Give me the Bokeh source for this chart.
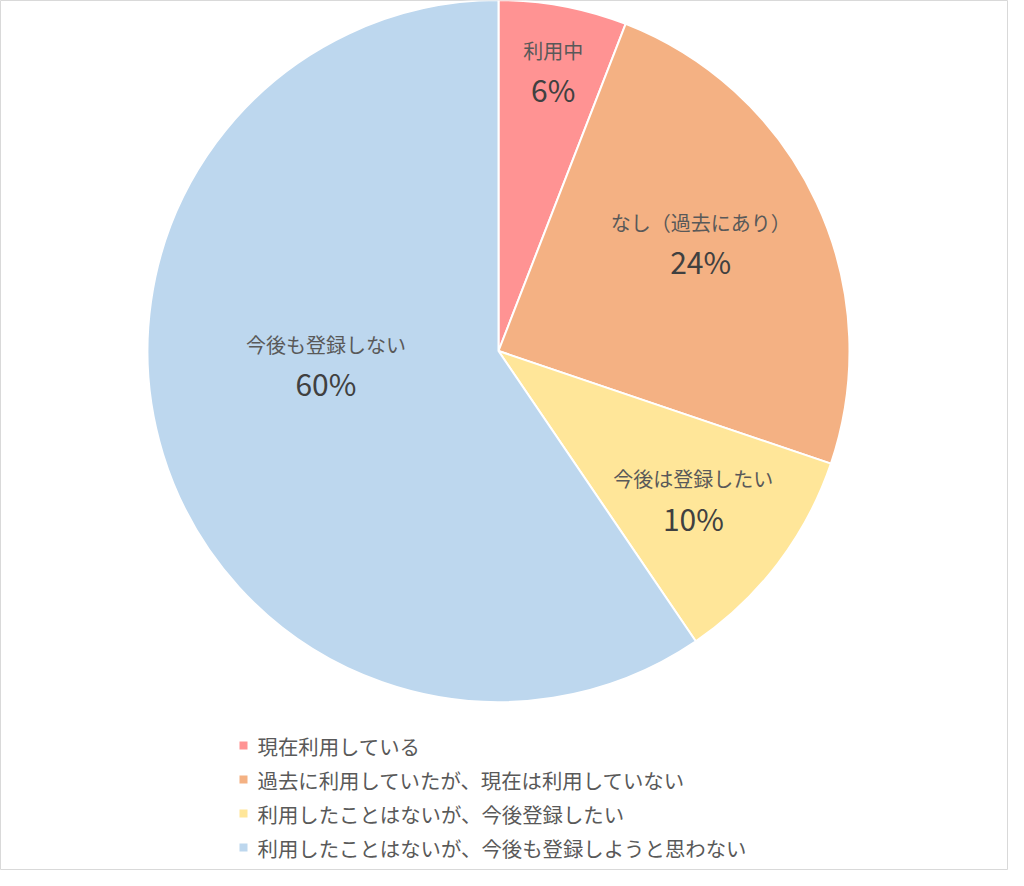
import math
from bokeh.plotting import figure
from bokeh.models import Range1d, ColumnDataSource
from bokeh.core.properties import value
from bokeh.embed import file_html
from bokeh.resources import INLINE

# ---- data ----
short_labels = ["利用中", "なし（過去にあり）", "今後は登録したい", "今後も登録しない"]
legend_labels = ["現在利用している",
                 "過去に利用していたが、現在は利用していない",
                 "利用したことはないが、今後登録したい",
                 "利用したことはないが、今後も登録しようと思わない"]
shares = [5.9, 24.3, 10.3, 59.5]
colors = ["#FF9393", "#F4B183", "#FFE699", "#BDD7EE"]

# ---- layout ----
W, H = 1008, 870
cx, cy, R = 498, H - 350.5, 351
# label placement (polar: degrees clockwise from top, distance from centre)
label_polar = [(11, 287), (61.5, 230), (127, 244), (266, 173)]
FONT = value("Noto Sans CJK JP")

p = figure(width=W, height=H, output_backend="svg", toolbar_location=None,
           x_range=Range1d(0, W), y_range=Range1d(0, H), min_border=0,
           outline_line_color="#D9D9D9", outline_line_width=1)
p.axis.visible = False
p.grid.visible = False
p.background_fill_color = "white"

total = sum(shares)
starts, ends = [], []
acc = 0.0
for s in shares:
    starts.append(math.pi / 2 - 2 * math.pi * acc / total)
    acc += s
    ends.append(math.pi / 2 - 2 * math.pi * acc / total)

src = ColumnDataSource(dict(start=starts, end=ends, color=colors))
p.wedge(x=cx, y=cy, radius=R, start_angle="start", end_angle="end",
        direction="clock", fill_color="color", line_color="white",
        line_width=2, source=src)

pct = [f"{round(s / total * 100)}%" for s in shares]
lx = [cx + d * math.sin(math.radians(a)) for a, d in label_polar]
ly = [cy + d * math.cos(math.radians(a)) for a, d in label_polar]
p.text(x=lx, y=[v + 19 for v in ly], text=short_labels, text_font=FONT,
       text_font_size="20px", text_color="#595959", text_align="center",
       text_baseline="middle")
p.text(x=lx, y=[v - 20 for v in ly], text=pct, text_font=FONT,
       text_font_size="30px", text_color="#404040", text_align="center",
       text_baseline="middle")

# legend
leg_y = [H - (753 - 8) - 34 * i for i in range(len(legend_labels))]
p.scatter(x=[243] * 4, y=leg_y, marker="square", size=8, fill_color=colors,
          line_color=None)
p.text(x=[257] * 4, y=leg_y, text=legend_labels, text_font=FONT,
       text_font_size="20.4px", text_color="#595959", text_align="left",
       text_baseline="middle")

open("out.html", "w").write(file_html(p, INLINE))
